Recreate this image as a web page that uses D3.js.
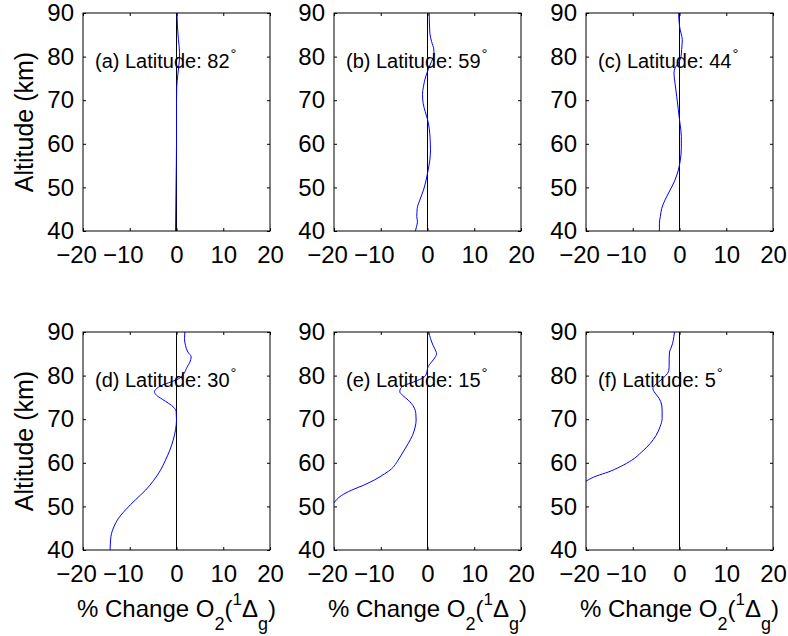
<!DOCTYPE html>
<html>
<head>
<meta charset="utf-8">
<script src="https://cdn.jsdelivr.net/npm/d3@7"></script>
<style>
  html, body { margin: 0; padding: 0; background: #fff; }
  svg { display: block; }
  text { font-family: "Liberation Sans", Arial, Helvetica, sans-serif; fill: #000; }
</style>
</head>
<body>
<svg id="chart" width="788" height="636"></svg>
<script>
// Percent change of O2(1Δg) with altitude at six latitudes.
const latitudes = [82, 59, 44, 30, 15, 5];
const panelLetters = ["a", "b", "c", "d", "e", "f"];
const xTicks = [-20, -10, 0, 10, 20];
const yTicks = [40, 50, 60, 70, 80, 90];

// Altitude (km) and % change for each latitude profile
const alt82 = [90, 87, 84, 81, 79, 76, 73, 70, 60, 50, 40];
const chg82 = [0.1, 0.2, 0.4, 0.65, 0.6, 0.3, 0.05, 0.0, 0.0, -0.1, -0.2];

const alt59 = [90, 85.4, 83.5, 81.6, 80.4, 78.9, 77, 75.5, 73.2, 71.3, 69.3, 67.4, 65.9, 63.6, 60.9, 58.6, 56.3, 54, 51.7, 49.4, 47.1, 45.2, 43.3, 42.1, 41, 40];
const chg59 = [0.36, 0.5, 0.86, 1.36, 1.4, 0.86, 0.14, -0.36, -0.86, -1.07, -0.93, -0.5, -0.07, 0.36, 0.57, 0.64, 0.5, 0.14, -0.29, -0.86, -1.64, -2.2, -2.29, -2.14, -2.36, -2.57];

const alt44 = [90, 87, 85.4, 83.9, 81.6, 80, 78.5, 77.4, 76.2, 73.9, 70.9, 67.8, 64.7, 61.7, 59, 56.3, 54, 51.7, 49.4, 47.1, 45.2, 43.3, 41.8, 40];
const chg44 = [-0.18, 0, 0.32, 0.6, 0.46, 0.32, -0.25, -0.96, -1.18, -0.96, -0.6, -0.25, 0.1, 0.39, 0.39, 0.18, -0.25, -0.96, -2.0, -3.1, -3.8, -4.1, -4.3, -4.3];

const alt30 = [90, 88.5, 86.9, 85.4, 84.3, 83.1, 82, 80.5, 79.3, 78.5, 77.8, 77, 76.3, 75.5, 74.6, 73.6, 72.7, 71.7, 69.8, 67.6, 65.2, 62.9, 60.6, 58.3, 56, 53.7, 51.5, 49.2, 47.3, 45.3, 43.8, 42.3, 40];
const chg30 = [1.79, 1.71, 1.93, 2.43, 3.14, 2.86, 2.29, 1.57, 0.5, -1.29, -3.07, -4.29, -4.71, -4.29, -3.07, -1.64, -0.57, -0.07, 0, -0.2, -0.71, -1.43, -2.36, -3.43, -4.86, -6.64, -8.79, -10.9, -12.4, -13.4, -13.9, -14.1, -14.2];

const alt15 = [90, 88.5, 86.9, 85.6, 85, 84.1, 83.1, 82.1, 81.2, 80.1, 79.3, 78.5, 77.8, 77, 76.3, 75.5, 74.4, 72.8, 71.3, 69.8, 68.2, 66.3, 64.4, 62.5, 60.6, 58.6, 57.5, 56.1, 54.8, 53.7, 52.5, 50.8];
const chg15 = [0.29, 0.64, 1.21, 1.79, 1.93, 1.57, 0.86, 0.14, -0.07, -0.36, -1.29, -3.07, -4.86, -5.79, -5.93, -5.36, -4.14, -2.93, -2.5, -2.43, -2.64, -3.21, -4.14, -5.21, -6.29, -7.71, -9.14, -11.3, -13.8, -16.3, -18.4, -20];

const alt5 = [90, 88.9, 87.3, 86.2, 85.4, 83.9, 82.4, 81.2, 80.5, 79.5, 78.5, 77.6, 77, 76.3, 75.3, 74, 72.1, 70.2, 68.3, 66.3, 64.4, 62.5, 60.6, 59.1, 57.9, 57, 55.8];
const chg5 = [-1.07, -1.21, -1.5, -1.86, -2.14, -2.21, -2.21, -2.29, -2.57, -3.43, -4.5, -5.43, -5.71, -5.43, -4.71, -4.0, -3.71, -3.71, -4.14, -5.0, -6.29, -8.07, -10.2, -12.7, -15.2, -17.7, -20];

const altitudes = [alt82, alt59, alt44, alt30, alt15, alt5];
const changes = [chg82, chg59, chg44, chg30, chg15, chg5];

// Grid of axes boxes
const colLeft = [83, 334, 586];
const rowTop = [13, 332];
const boxW = 187;
const boxH = 218;
const tick = 3;

const svg = d3.select("#chart");
svg.append("rect").attr("width", 788).attr("height", 636).attr("fill", "#fff");

latitudes.forEach((lat, i) => {
  const col = i % 3, row = Math.floor(i / 3);
  const left = colLeft[col], top = rowTop[row];

  const x = d3.scaleLinear().domain([-20, 20]).range([left, left + boxW]);
  const y = d3.scaleLinear().domain([40, 90]).range([top + boxH, top]);

  const g = svg.append("g").attr("class", "panel-" + panelLetters[i]);

  // clip region for the profile
  const clipId = "clip-" + panelLetters[i];
  g.append("clipPath").attr("id", clipId)
    .append("rect").attr("x", left).attr("y", top).attr("width", boxW).attr("height", boxH);

  // zero reference line
  g.append("line")
    .attr("x1", x(0)).attr("x2", x(0))
    .attr("y1", y(40)).attr("y2", y(90))
    .attr("stroke", "#000").attr("stroke-width", 1);

  // profile
  const pts = altitudes[i].map((a, k) => [changes[i][k], a]);
  const line = d3.line()
    .x(d => x(d[0]))
    .y(d => y(d[1]))
    .curve(d3.curveMonotoneY);
  g.append("path")
    .datum(pts.slice().sort((p, q) => q[1] - p[1]))
    .attr("d", line)
    .attr("fill", "none")
    .attr("stroke", "#0000ff")
    .attr("stroke-width", 1)
    .attr("clip-path", "url(#" + clipId + ")");

  // axes with inward ticks on all four sides
  g.append("g").attr("transform", `translate(0,${top + boxH})`)
    .call(d3.axisBottom(x).tickValues(xTicks).tickSizeInner(-tick).tickSizeOuter(0).tickPadding(15))
    .selectAll(".tick text")
    // digits sit centred on the tick; a leading minus hangs to the left
    .attr("dx", d => (d < 0 ? "-0.29em" : null));
  g.append("g").attr("transform", `translate(${left},0)`)
    .call(d3.axisLeft(y).tickValues(yTicks).tickSizeInner(-tick).tickSizeOuter(0).tickPadding(9));
  g.append("g").attr("transform", `translate(0,${top})`)
    .call(d3.axisTop(x).tickValues(xTicks).tickSizeInner(-tick).tickSizeOuter(0).tickFormat(""));
  g.append("g").attr("transform", `translate(${left + boxW},0)`)
    .call(d3.axisRight(y).tickValues(yTicks).tickSizeInner(-tick).tickSizeOuter(0).tickFormat(""));

  g.selectAll(".domain").remove();
  g.selectAll(".tick line").attr("stroke", "#000");
  g.selectAll(".tick text").attr("font-size", 24).style("font-family", '"Liberation Sans", Arial, sans-serif');

  // frame
  g.append("rect")
    .attr("x", left).attr("y", top).attr("width", boxW).attr("height", boxH)
    .attr("fill", "none").attr("stroke", "#000").attr("stroke-width", 1);

  // panel annotation
  const label = g.append("text")
    .attr("x", left + 12).attr("y", top + 55)
    .attr("font-size", 20);
  label.append("tspan").text(`(${panelLetters[i]}) Latitude: ${lat}`);
  label.append("tspan").attr("font-size", 15).attr("dx", 1).attr("dy", -9).text("°");

  // y axis title on the first column
  if (col === 0) {
    g.append("text")
      .attr("transform", `translate(33,${top + boxH / 2}) rotate(-90)`)
      .attr("text-anchor", "middle")
      .attr("font-size", 25)
      .text("Altitude (km)");
  }

  // x axis title on the bottom row
  if (row === 1) {
    const t = g.append("text")
      .attr("x", left + boxW / 2).attr("y", 617)
      .attr("text-anchor", "middle")
      .attr("font-size", 24);
    t.append("tspan").text("% Change O");
    t.append("tspan").attr("font-size", 18).attr("dy", 13).text("2");
    t.append("tspan").attr("dy", -13).text("(");
    t.append("tspan").attr("font-size", 17).attr("dy", -12).text("1");
    t.append("tspan").attr("dy", 12).text("Δ");
    t.append("tspan").attr("font-size", 18).attr("dy", 13).text("g");
    t.append("tspan").attr("dy", -13).text(")");
  }
});
</script>
</body>
</html>
